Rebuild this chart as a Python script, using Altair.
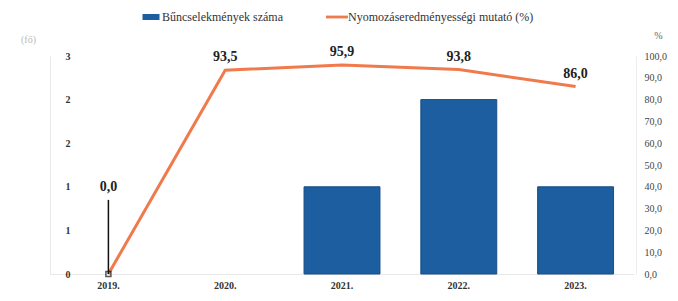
import altair as alt
import pandas as pd

years = ["2019.", "2020.", "2021.", "2022.", "2023."]
crimes = [0, 0, 1, 2, 1]
rates = [0.0, 93.5, 95.9, 93.8, 86.0]
series_names = ["Bűncselekmények száma", "Nyomozáseredményességi mutató (%)"]
left_ticks = [0, 0.5, 1, 1.5, 2, 2.5]
right_ticks = [0, 10, 20, 30, 40, 50, 60, 70, 80, 90, 100]

df = pd.DataFrame({"year": years, "crimes": crimes, "rate": rates})

FONT = "Liberation Serif"
BLUE = "#1c5e9f"
ORANGE = "#f07a4c"

x = alt.X("year:N", sort=years,
          scale=alt.Scale(paddingInner=0.35, paddingOuter=0.175),
          axis=alt.Axis(title=None, labelAngle=0, ticks=False, domainColor="#e8e8e8",
                        labelFont=FONT, labelFontWeight="bold", labelFontSize=10,
                        labelColor="#333", labelPadding=6))

y_left = alt.Y("crimes:Q", scale=alt.Scale(domain=[0, 2.5], nice=False),
               axis=alt.Axis(values=left_ticks, labelExpr="'' + round(datum.value)",
                             title="(fő)", titleAngle=0, titleAlign="center",
                             titleX=-22, titleY=-12, titleFont=FONT, titleFontSize=10,
                             titleColor="#bbb", titleFontWeight="normal",
                             grid=False, ticks=False, domainColor="#e8e8e8",
                             labelFont=FONT, labelFontWeight="bold", labelFontSize=10,
                             labelColor="#333", labelPadding=-20, labelOverlap=False,
                             labelAlign="right"))

right_axis = alt.Axis(orient="right", values=right_ticks,
                      labelExpr="replace(format(datum.value, '.1f'), '.', ',')",
                      title="%", titleAngle=0, titleX=22, titleY=-16, titleFont=FONT,
                      titleFontSize=10, titleColor="#666", titleFontWeight="normal",
                      grid=False, ticks=False, offset=2, domainColor="#ececec",
                      labelFont=FONT, labelFontSize=10, labelColor="#444", labelPadding=8)
pct_scale = alt.Scale(domain=[0, 100], nice=False)

base = alt.Chart(df)

bars = base.transform_filter("datum.crimes > 0").mark_bar(
    color=BLUE, stroke="#174e86", strokeWidth=1
).encode(x=x, y=y_left)

line_base = base.transform_calculate(
    label="replace(format(datum.rate, '.1f'), '.', ',')",
    label_y="datum.rate == 0 ? 34 : datum.rate",
    series="'Nyomozáseredményességi mutató (%)'",
)

line = line_base.mark_line(color=ORANGE, strokeWidth=3).encode(
    x=x, y=alt.Y("rate:Q", scale=pct_scale, axis=right_axis)
)

labels = line_base.mark_text(
    font=FONT, fontSize=14, fontWeight="bold", color="#222", dy=-13
).encode(x=x, y=alt.Y("label_y:Q", scale=pct_scale, axis=right_axis), text="label:N")

leader = line_base.transform_filter("datum.rate == 0").mark_rule(
    color="#111", strokeWidth=1.5
).encode(x=x, y=alt.Y("rate:Q", scale=pct_scale, axis=right_axis), y2="label_y:Q")

marker = line_base.transform_filter("datum.rate == 0").mark_point(
    shape="square", filled=False, color="#111", size=25, strokeWidth=1.5
).encode(x=x, y=alt.Y("rate:Q", scale=pct_scale, axis=right_axis))

legend = alt.Legend(title=None, orient="none", legendX=90, legendY=-50,
                    direction="horizontal", labelFont=FONT, labelFontSize=12,
                    labelColor="#333", symbolSize=400, symbolOpacity=1,
                    columnPadding=40, labelLimit=400, labelOffset=0, padding=0)

legend_pts = line_base.mark_point(filled=True, opacity=0).encode(
    x=x, y=alt.Y("rate:Q", scale=pct_scale, axis=right_axis),
    color=alt.Color("series:N", scale=alt.Scale(domain=series_names, range=[BLUE, ORANGE]),
                    legend=legend),
    shape=alt.Shape("series:N", scale=alt.Scale(
        domain=series_names,
        range=["M-0.85,-0.3H0.85V0.3H-0.85Z", "M-1.1,-0.14H1.1V0.14H-1.1Z"]),
        legend=legend),
)

right = alt.layer(line, leader, marker, labels, legend_pts)

chart = alt.layer(bars, right).resolve_scale(y="independent").properties(
    width=584, height=218,
    autosize=alt.AutoSizeParams(type="none"),
    padding={"left": 42, "top": 48, "right": 36, "bottom": 19},
).configure_view(stroke=None)

chart.save("out.html", embed_options={"renderer": "svg", "actions": False})
